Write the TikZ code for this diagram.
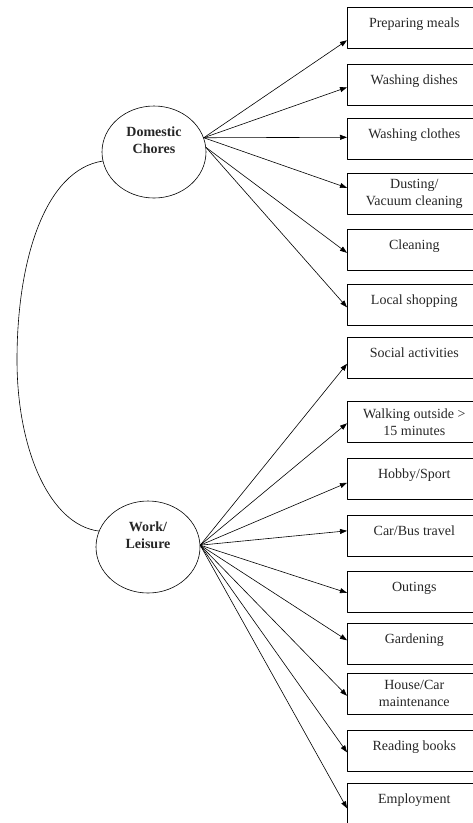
\documentclass[tikz,border=0pt]{standalone}
\usepackage{fontspec}
\setmainfont{Liberation Serif}
\usetikzlibrary{shapes.geometric}
\usetikzlibrary{arrows.meta}

\begin{document}
\begin{tikzpicture}[
  x=1pt, y=-1pt,
  line cap=round,
  line join=round,
  >={Triangle[length=7pt,width=5pt]},
  every node/.style={font=\fontsize{14pt}{17pt}\selectfont, text=black!85},
  factor/.style={ellipse, draw, line width=0.6pt, minimum width=104pt, minimum height=92pt, inner sep=0pt},
  itembox/.style={draw, line width=0.6pt, anchor=north west, minimum width=134pt, minimum height=41pt, align=center},
  oneline/.style={itembox, text height=10pt, text depth=11pt},
  load/.style={->, line width=0.6pt}
]
\useasboundingbox (0,0) rectangle (472,823);

% the two factors
\node [factor, label={[yshift=12pt, align=center, font=\fontsize{14pt}{17pt}\selectfont\bfseries]center:Domestic\\Chores}] (dc) at (154,152) {};
\node [factor, label={[yshift=12pt, align=center, font=\fontsize{14pt}{17pt}\selectfont\bfseries]center:Work/\\Leisure}] (wl) at (148,547) {};

% indicators
\node [oneline] (b1)  at (347,7)   {Preparing meals};
\node [oneline] (b2)  at (347,64)  {Washing dishes};
\node [oneline] (b3)  at (347,118) {Washing clothes};
\node [itembox] (b4)  at (347,173) {Dusting/\\Vacuum cleaning};
\node [oneline] (b5)  at (347,229) {Cleaning};
\node [oneline] (b6)  at (347,284) {Local shopping};
\node [oneline] (b7)  at (347,337) {Social activities};
\node [itembox] (b8)  at (347,401) {Walking outside >\\15 minutes};
\node [oneline] (b9)  at (347,458) {Hobby/Sport};
\node [oneline] (b10) at (347,515) {Car/Bus travel};
\node [oneline] (b11) at (347,571) {Outings};
\node [oneline] (b12) at (347,623) {Gardening};
\node [itembox] (b13) at (347,673) {House/Car\\maintenance};
\node [oneline] (b14) at (347,730) {Reading books};
\node [oneline] (b15) at (347,783) {Employment};

% loadings
\foreach \i/\s in {1/-12.5, 2/-2.5, 3/1.5, 4/6} {
  \draw [load] (dc.16) -- ([yshift=\s pt]b\i.west);
}
\foreach \i/\s in {5/-3, 6/-2.5} {
  \draw [load] (dc.5) -- ([yshift=\s pt]b\i.west);
}
\foreach \i/\s in {7/-6, 8/-1.5, 9/-4, 10/5, 11/-1, 12/3.5, 13/-2, 14/-1.5, 15/-4.5} {
  \draw [load] (wl.2) -- ([yshift=\s pt]b\i.west);
}

% correlation
\coordinate (bend) at (17,360);
\draw [line width=0.6pt] (dc.190) .. controls (45,170) and (17,260) .. (bend)
  .. controls (17,450) and (50,525) .. (wl.162);

\end{tikzpicture}
\end{document}
